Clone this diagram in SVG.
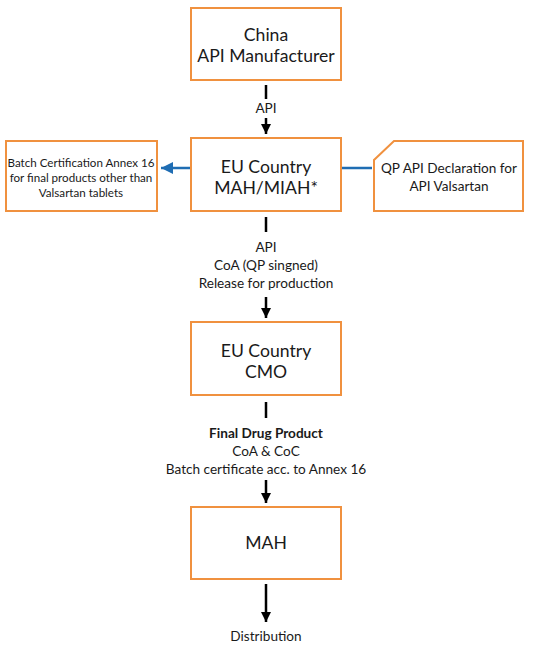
<svg xmlns="http://www.w3.org/2000/svg" width="534" height="650" viewBox="0 0 534 650">
<defs>
<style>
.box{fill:#fff;stroke:#f0913f;stroke-width:2}
.t{font-family:Lato,"Open Sans",sans-serif;fill:#1a1a1a;text-anchor:middle}
.big{font-size:17.6px}
.sm{font-size:11.6px}
.lb{font-size:13.6px}
.ln{stroke:#000;stroke-width:2.5;fill:none}
.bl{stroke:#1f6db3;stroke-width:2.5;fill:none}
</style>
<marker id="ah" viewBox="0 0 10 10" refX="10" refY="5" markerWidth="10" markerHeight="10" markerUnits="userSpaceOnUse" orient="auto"><path d="M0,0 L10,5 L0,10 z" fill="#000"/></marker>
<marker id="ahb" viewBox="0 0 10 10" refX="10" refY="5" markerWidth="12" markerHeight="12" markerUnits="userSpaceOnUse" orient="auto"><path d="M0,0 L10,5 L0,10 z" fill="#1f6db3"/></marker>
</defs>
<g id="connectors">
<line class="ln" x1="266" y1="85" x2="266" y2="99"/>
<line class="ln" x1="266" y1="118" x2="266" y2="134" marker-end="url(#ah)"/>
<line class="ln" x1="266" y1="217" x2="266" y2="232"/>
<line class="ln" x1="266" y1="297" x2="266" y2="318" marker-end="url(#ah)"/>
<line class="ln" x1="266" y1="402" x2="266" y2="418"/>
<line class="ln" x1="266" y1="480" x2="266" y2="503" marker-end="url(#ah)"/>
<line class="ln" x1="266" y1="584" x2="266" y2="622" marker-end="url(#ah)"/>
<line class="bl" x1="191" y1="168" x2="161" y2="168" marker-end="url(#ahb)"/>
<line class="bl" x1="342" y1="168" x2="372" y2="168"/>
</g>
<g id="china">
<rect class="box" x="191" y="8" width="150" height="72"/>
<text class="t big" x="266" y="41">China</text>
<text class="t big" x="266" y="62">API Manufacturer</text>
</g>
<text class="t lb" x="266" y="113">API</text>
<g id="eu-mah">
<rect class="box" x="191" y="138" width="150" height="73"/>
<text class="t big" x="266" y="173">EU Country</text>
<text class="t big" x="266" y="194">MAH/MIAH*</text>
</g>
<g id="batch-cert">
<rect class="box" x="6" y="141" width="151" height="70"/>
<text class="t sm" x="81" y="167">Batch Certification Annex 16</text>
<text class="t sm" x="81" y="182">for final products other than</text>
<text class="t sm" x="81" y="197">Valsartan tablets</text>
</g>
<g id="qp-decl">
<path class="box" d="M394,141 H523 V211 H374 V160 Z"/>
<text class="t lb" x="449" y="173">QP API Declaration for</text>
<text class="t lb" x="449" y="191">API Valsartan</text>
</g>
<g id="label2">
<text class="t lb" x="266" y="252">API</text>
<text class="t lb" x="266" y="270">CoA (QP singned)</text>
<text class="t lb" x="266" y="288">Release for production</text>
</g>
<g id="eu-cmo">
<rect class="box" x="191" y="322" width="150" height="73"/>
<text class="t big" x="266" y="357">EU Country</text>
<text class="t big" x="266" y="378">CMO</text>
</g>
<g id="label3">
<text class="t lb" x="266" y="438" font-weight="bold">Final Drug Product</text>
<text class="t lb" x="266" y="456">CoA &amp; CoC</text>
<text class="t lb" x="266" y="474">Batch certificate acc. to Annex 16</text>
</g>
<g id="mah">
<rect class="box" x="191" y="507" width="150" height="72"/>
<text class="t big" x="266" y="549">MAH</text>
</g>
<text class="t lb" x="266" y="641">Distribution</text>
</svg>
